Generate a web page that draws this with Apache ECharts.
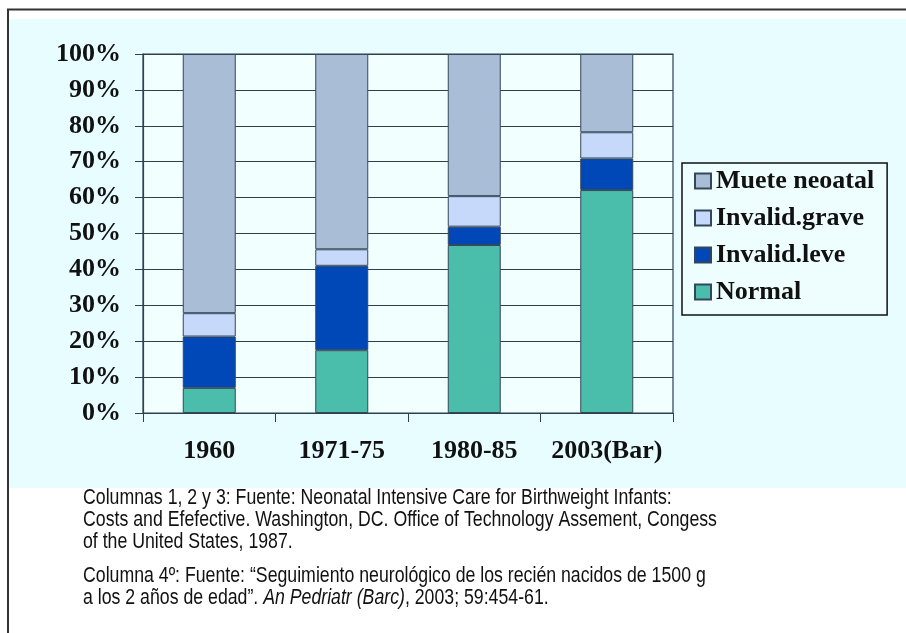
<!DOCTYPE html>
<html>
<head>
<meta charset="utf-8">
<script src="https://cdn.jsdelivr.net/npm/echarts@6/dist/echarts.min.js"></script>
<style>
html,body{margin:0;padding:0;background:#fff;}
#c{width:906px;height:633px;}
</style>
</head>
<body>
<div id="c"></div>
<script>
var categories = ['1960', '1971-75', '1980-85', '2003(Bar)'];
var normal = [7.0, 17.5, 46.8, 62.1];
var invalidLeve = [14.3, 23.5, 5.1, 8.8];
var invalidGrave = [6.5, 4.6, 8.5, 7.3];
var muete = [72.2, 54.4, 39.6, 21.8];
var yTicks = [0, 10, 20, 30, 40, 50, 60, 70, 80, 90, 100];
var legendNames = ['Muete neoatal', 'Invalid.grave', 'Invalid.leve', 'Normal'];

var serif = '"Liberation Serif", "Times New Roman", serif';
var sans = '"Liberation Sans", Arial, sans-serif';
var noteSize = 22;
var noteScale = 0.805;

var chart = echarts.init(document.getElementById('c'), null, {renderer: 'canvas'});

function mkSeries(name, data, color) {
  return {
    name: name, type: 'bar', stack: 'total', data: data, barWidth: '40%',
    itemStyle: {color: color, borderColor: '#34475a', borderWidth: 1},
    emphasis: {disabled: true}
  };
}
function note(text, y) {
  return {
    type: 'text', x: 83, y: y, scaleX: noteScale, originX: 0, originY: 0,
    style: {
      text: text, fontFamily: sans, fontSize: noteSize, fill: '#111',
      rich: {i: {fontFamily: sans, fontSize: noteSize, fontStyle: 'italic', fill: '#111'}}
    }
  };
}

chart.setOption({
  animation: false,
  backgroundColor: '#ffffff',
  graphic: [
    {type: 'rect', z: -10, shape: {x: 9, y: 19, width: 900, height: 469}, style: {fill: '#e8fdff'}},
    {type: 'rect', z: 100, shape: {x: 8, y: 9.5, width: 910, height: 650}, style: {fill: null, stroke: '#333', lineWidth: 2}},
    note('Columnas 1, 2 y 3: Fuente: Neonatal Intensive Care for Birthweight Infants:', 486.5),
    note('Costs and Efefective. Washington, DC. Office of Technology Assement, Congess', 508.5),
    note('of the United States, 1987.', 530.5),
    note('Columna 4º: Fuente: “Seguimiento neurológico de los recién nacidos de 1500 g', 564.5),
    note('a los 2 años de edad”. {i|An Pedriatr (Barc)}, 2003; 59:454-61.', 586.5)
  ],
  grid: {
    left: 143, right: 233, top: 54, bottom: 220,
    show: true, backgroundColor: '#f2ffff', borderColor: '#2e3f50', borderWidth: 1.2
  },
  legend: {
    data: legendNames,
    orient: 'vertical',
    left: 682, top: 163,
    padding: [5, 13, 10, 12],
    itemGap: 11,
    icon: 'rect',
    itemWidth: 16, itemHeight: 15,
    borderColor: '#111', borderWidth: 1.5,
    backgroundColor: '#eefeff',
    selectedMode: false,
    textStyle: {fontFamily: serif, fontWeight: 'bold', fontSize: 26, color: '#111'}
  },
  xAxis: {
    type: 'category', data: categories,
    axisLine: {lineStyle: {color: '#2e3f50', width: 1.2}},
    axisTick: {show: true, length: 9, lineStyle: {color: '#2e3f50'}},
    axisLabel: {interval: 0, fontFamily: serif, fontWeight: 'bold', fontSize: 26, color: '#111', margin: 25}
  },
  yAxis: {
    type: 'value', min: 0, max: 100, interval: 10,
    axisLine: {show: true, lineStyle: {color: '#2e3f50', width: 1.2}},
    axisTick: {show: true, length: 8, lineStyle: {color: '#2e3f50'}},
    splitLine: {show: true, lineStyle: {color: '#2e3f50', width: 1.2}},
    axisLabel: {
      fontFamily: serif, fontWeight: 'bold', fontSize: 26, color: '#111', margin: 22,
      formatter: function (v) { return yTicks.indexOf(v) >= 0 ? v + '%' : ''; }
    }
  },
  series: [
    mkSeries('Normal', normal, '#4bbdab'),
    mkSeries('Invalid.leve', invalidLeve, '#0048b8'),
    mkSeries('Invalid.grave', invalidGrave, '#c6d9fb'),
    mkSeries('Muete neoatal', muete, '#a9bdd6')
  ]
});
</script>
</body>
</html>
